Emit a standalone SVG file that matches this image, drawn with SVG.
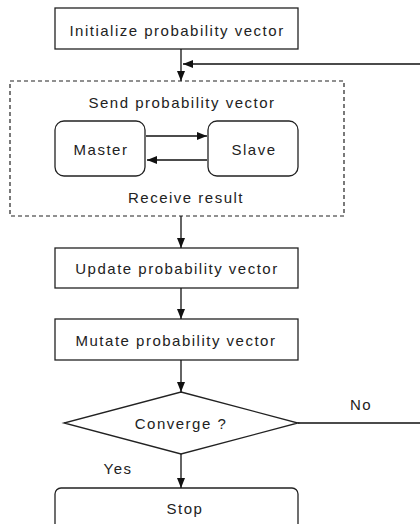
<svg xmlns="http://www.w3.org/2000/svg" width="420" height="524" viewBox="0 0 420 524">
<defs>
<marker id="ah" markerWidth="10" markerHeight="8" refX="10" refY="4" orient="auto" markerUnits="userSpaceOnUse">
<path d="M0,0 L10,4 L0,8 Z" fill="#111"/>
</marker>
<style>
text{font-family:"Liberation Sans",Arial,sans-serif;font-size:15px;fill:#222;text-anchor:middle;letter-spacing:1.5px}
.box{fill:#fff;stroke:#222;stroke-width:1.3}
.dash{fill:none;stroke:#222;stroke-width:1.2;stroke-dasharray:4,3}
.ln{fill:none;stroke:#111;stroke-width:1.3}
</style>
</defs>
<rect width="420" height="524" fill="#fff"/>
<g id="init"><rect class="box" x="55" y="8" width="243" height="41"/><text x="177" y="36">Initialize probability vector</text></g>
<g id="parallel"><rect class="dash" x="10" y="81" width="334" height="135"/><text x="182" y="108">Send probability vector</text><text x="186" y="203">Receive result</text></g>
<g id="master"><rect class="box" x="55" y="121" width="90" height="55" rx="9"/><text x="101" y="155">Master</text></g>
<g id="slave"><rect class="box" x="208" y="121" width="90" height="55" rx="9"/><text x="254" y="155">Slave</text></g>
<g id="update"><rect class="box" x="55" y="248" width="243" height="40"/><text x="177" y="274">Update probability vector</text></g>
<g id="mutate"><rect class="box" x="55" y="319" width="243" height="41"/><text x="176" y="346">Mutate probability vector</text></g>
<g id="converge"><polygon class="box" points="181,392 298,423 181,454 64,423"/><text x="181" y="429">Converge ?</text></g>
<g id="stop"><rect class="box" x="55" y="488" width="243" height="50" rx="6"/><text x="185" y="514">Stop</text></g>
<g id="connectors">
<line class="ln" x1="181" y1="49" x2="181" y2="81" marker-end="url(#ah)"/>
<polyline class="ln" points="298,423 422,423 422,64 183,64" marker-end="url(#ah)"/>
<line class="ln" x1="146" y1="136" x2="207" y2="136" marker-end="url(#ah)"/>
<line class="ln" x1="207" y1="160" x2="147" y2="160" marker-end="url(#ah)"/>
<line class="ln" x1="181" y1="216" x2="181" y2="248" marker-end="url(#ah)"/>
<line class="ln" x1="181" y1="288" x2="181" y2="319" marker-end="url(#ah)"/>
<line class="ln" x1="181" y1="360" x2="181" y2="392" marker-end="url(#ah)"/>
<line class="ln" x1="181" y1="454" x2="181" y2="488" marker-end="url(#ah)"/>
<text x="361" y="410">No</text>
<text x="118" y="474">Yes</text>
</g>
</svg>
